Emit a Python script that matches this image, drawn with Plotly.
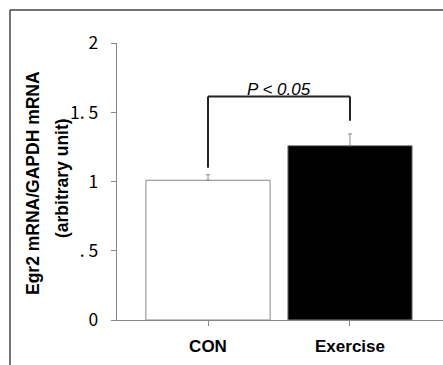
import plotly.graph_objects as go

categories = ["CON", "Exercise"]
values = [1.01, 1.26]
errors = [0.04, 0.085]
bar_colors = ["white", "black"]
ytick_vals = [0, 0.5, 1, 1.5, 2]
ytick_text = ["0", ". 5", "1", "1. 5", "2"]
bracket_left = 1.10
bracket_top = 1.615
bracket_right = 1.44
sig_label = "P < 0.05"

W, H = 443, 365
xpos = list(range(len(categories)))

fig = go.Figure()
fig.add_trace(go.Bar(
    x=xpos, y=values, width=0.875,
    marker=dict(color=bar_colors, line=dict(color="#888888", width=1)),
    error_y=dict(type="data", array=errors, arrayminus=[0, 0], symmetric=False,
                 color="#888888", thickness=1, width=2),
))

# significance bracket
fig.add_shape(type="line", xref="x", yref="y", x0=xpos[0], x1=xpos[0], y0=bracket_left, y1=bracket_top,
              line=dict(color="#222222", width=2))
fig.add_shape(type="line", xref="x", yref="y", x0=xpos[0], x1=xpos[1], y0=bracket_top, y1=bracket_top,
              line=dict(color="#222222", width=2))
fig.add_shape(type="line", xref="x", yref="y", x0=xpos[1], x1=xpos[1], y0=bracket_top, y1=bracket_right,
              line=dict(color="#222222", width=2))
fig.add_annotation(x=(xpos[0] + xpos[1]) / 2, y=bracket_top, xref="x", yref="y",
                   text="<i>" + sig_label + "</i>", showarrow=False, yanchor="bottom", yshift=-4,
                   font=dict(family="Liberation Sans", size=17, color="black"))

# frame (left and top edges of the figure box)
fig.add_shape(type="line", xref="paper", yref="paper", x0=10 / W, x1=10 / W, y0=0, y1=1 - 10 / H,
              line=dict(color="#444444", width=1.5))
fig.add_shape(type="line", xref="paper", yref="paper", x0=10 / W, x1=1, y0=1 - 10 / H, y1=1 - 10 / H,
              line=dict(color="#444444", width=1.5))

# y-axis title (two lines)
fig.add_annotation(x=33 / W, y=1 - 183 / H, xref="paper", yref="paper", text="<b>Egr2 mRNA/GAPDH mRNA</b>",
                   textangle=-90, showarrow=False, xanchor="center", yanchor="middle",
                   font=dict(family="Liberation Sans", size=17.5, color="black"))
fig.add_annotation(x=62 / W, y=1 - 178 / H, xref="paper", yref="paper", text="<b>(arbitrary unit)</b>",
                   textangle=-90, showarrow=False, xanchor="center", yanchor="middle",
                   font=dict(family="Liberation Sans", size=17.5, color="black"))

fig.update_layout(
    width=W, height=H, margin=dict(l=0, r=0, t=0, b=0, autoexpand=False),
    plot_bgcolor="white", paper_bgcolor="white", showlegend=False,
    xaxis=dict(domain=[116.7 / W, 1.0], range=[-0.643, 1.655], tickvals=xpos, ticktext=categories,
               showline=True, linecolor="#888888", linewidth=1, ticks="outside", ticklen=5, tickcolor="#888888",
               showgrid=False, zeroline=False, ticklabelstandoff=6, automargin=False, mirror=False,
               tickfont=dict(family="Liberation Sans", size=17, color="black", weight="bold")),
    yaxis=dict(domain=[45 / H, 321.7 / H], range=[0, 2], tickvals=ytick_vals, ticktext=ytick_text,
               showline=True, linecolor="#888888", linewidth=1, ticks="outside", ticklen=5, tickcolor="#888888",
               showgrid=False, zeroline=False, ticklabelstandoff=9, automargin=False, mirror=False,
               tickfont=dict(family="Noto Sans CJK JP", size=17.5, color="black")),
)
fig.write_html(
    "out.html",
    config={"displayModeBar": False, "responsive": False},
    post_script="document.documentElement.style.margin='0';document.body.style.margin='0';"
                "document.documentElement.style.overflow='hidden';document.body.style.overflow='hidden';"
                "document.documentElement.style.background='white';",
)
